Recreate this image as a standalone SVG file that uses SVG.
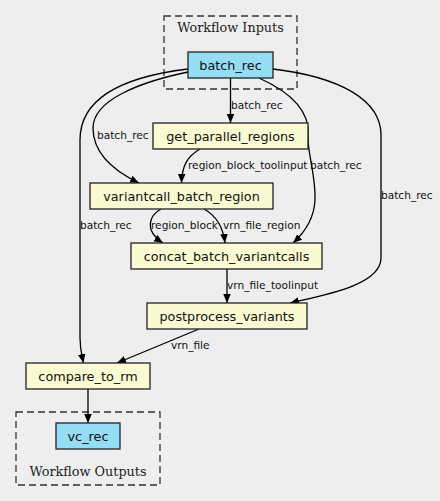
<svg xmlns="http://www.w3.org/2000/svg" width="440" height="501" viewBox="0 0 440 501">
<defs>
<style>
.cluster{fill:none;stroke:#333;stroke-width:1.3;stroke-dasharray:7,4}
.clabel{font-family:"DejaVu Serif",serif;font-size:12.8px;fill:#222;text-anchor:middle}
.inp{fill:#94ddf4;stroke:#222;stroke-width:1.3}
.step{fill:#fafad2;stroke:#222;stroke-width:1.3}
.ntext{font-family:"DejaVu Sans",sans-serif;font-size:12.8px;fill:#111;text-anchor:middle}
.edge{fill:none;stroke:#000;stroke-width:1.3;marker-end:url(#arr)}
.elabel{font-family:"DejaVu Sans",sans-serif;font-size:10.6px;fill:#111}
</style>
<marker id="arr" viewBox="0 0 10 10" refX="10" refY="5" markerWidth="9" markerHeight="9" markerUnits="userSpaceOnUse" orient="auto">
<path d="M0,0.8 L10,5 L0,9.2 Z" fill="#000"/>
</marker>
</defs>
<rect width="440" height="501" fill="#eeeeee"/>
<g id="cluster_inputs">
<rect class="cluster" x="164" y="16" width="133" height="73"/>
<text class="clabel" x="230.5" y="32">Workflow Inputs</text>
</g>
<g id="cluster_outputs">
<rect class="cluster" x="16" y="412" width="144" height="73"/>
<text class="clabel" x="88" y="476">Workflow Outputs</text>
</g>
<g id="edges">
<path class="edge" d="M230.5,78 L230.5,123"/>
<path class="edge" d="M188,72 C140,82 93,100 93,128 C93,152 112,170 139,183"/>
<path class="edge" d="M188,69 C130,76 80,95 80,140 L80,338 C80,350 82,356 83.5,363"/>
<path class="edge" d="M259,78 C290,92 310,110 308,135 C307,152 316,175 315,200 C314,220 303,234 293,243"/>
<path class="edge" d="M273,69 C340,77 381,100 381,135 L381,258 C381,285 325,295 290,303"/>
<path class="edge" d="M200,149 C188,156 182,165 181.5,183"/>
<path class="edge" d="M161,209 C150,215 143,230 163,243"/>
<path class="edge" d="M204,209 C215,215 223,226 225,243"/>
<path class="edge" d="M227,269 L227,303"/>
<path class="edge" d="M199,329 L117,363"/>
<path class="edge" d="M88,389 L88,423"/>
<text class="elabel" x="231" y="109">batch_rec</text>
<text class="elabel" x="97" y="139">batch_rec</text>
<text class="elabel" x="80" y="229">batch_rec</text>
<text class="elabel" x="310" y="169">batch_rec</text>
<text class="elabel" x="381" y="199">batch_rec</text>
<text class="elabel" x="188" y="169">region_block_toolinput</text>
<text class="elabel" x="151" y="229">region_block</text>
<text class="elabel" x="223" y="229">vrn_file_region</text>
<text class="elabel" x="227" y="289">vrn_file_toolinput</text>
<text class="elabel" x="171" y="349">vrn_file</text>
</g>
<g id="batch_rec">
<rect class="inp" x="188" y="52" width="85" height="26"/>
<text class="ntext" x="230.5" y="69.5">batch_rec</text>
</g>
<g id="get_parallel_regions">
<rect class="step" x="153" y="123" width="155" height="26"/>
<text class="ntext" x="230.5" y="140.5">get_parallel_regions</text>
</g>
<g id="variantcall_batch_region">
<rect class="step" x="90" y="183" width="183" height="26"/>
<text class="ntext" x="181.5" y="200.5">variantcall_batch_region</text>
</g>
<g id="concat_batch_variantcalls">
<rect class="step" x="131" y="243" width="191" height="26"/>
<text class="ntext" x="226.5" y="260.5">concat_batch_variantcalls</text>
</g>
<g id="postprocess_variants">
<rect class="step" x="147" y="303" width="160" height="26"/>
<text class="ntext" x="227" y="320.5">postprocess_variants</text>
</g>
<g id="compare_to_rm">
<rect class="step" x="26" y="363" width="124" height="26"/>
<text class="ntext" x="88" y="380.5">compare_to_rm</text>
</g>
<g id="vc_rec">
<rect class="inp" x="56" y="423" width="64" height="26"/>
<text class="ntext" x="88" y="440.5">vc_rec</text>
</g>
</svg>
